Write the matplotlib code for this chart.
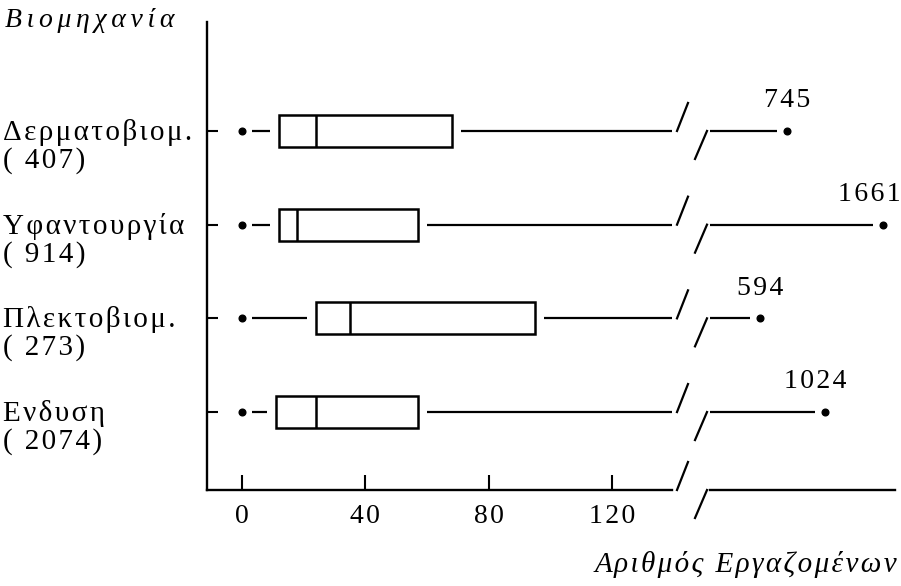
import numpy as np
import matplotlib
matplotlib.use("Agg")
import matplotlib.pyplot as plt
from matplotlib.patches import Rectangle
from matplotlib.transforms import blended_transform_factory

# ---------------- data ----------------
categories = ["Δερματοβιομ.", "Υφαντουργία", "Πλεκτοβιομ.", "Ενδυση"]
counts = [407, 914, 273, 2074]
mins = [0, 0, 0, 0]
q1 = [12, 12, 24, 11]
medians = [24, 18, 35, 24]
q3 = [68, 57, 95, 57]
maxs = [745, 1661, 594, 1024]
xticks = [0, 40, 80, 120]
title_text = "Βιομηχανία"
xlabel_text = "Αριθμός Εργαζομένων"

# ---------------- style ----------------
plt.rcParams['font.family'] = ['Liberation Serif', 'DejaVu Serif']
SIXTH = '\u2006'
HAIR = '\u200a'


def spaced(s, sp):
    return sp.join(list(s))


W, H = 901, 586
fig = plt.figure(figsize=(W / 100, H / 100), dpi=100)


def px_rect(x0, y0, x1, y1):
    return [x0 / W, 1 - y1 / H, (x1 - x0) / W, (y1 - y0) / H]


axL = fig.add_axes(px_rect(207, 22, 672, 490))
axR = fig.add_axes(px_rect(710, 22, 895, 490))

ypos = np.arange(len(categories))[::-1] + 1
axL.set_xlim(-11.3, 139.4)
axL.set_ylim(0.168, 5.163)
axR.set_xscale('log')
axR.set_xlim(391, 1832)
axR.set_ylim(axL.get_ylim())

LW = 1.6
BOX_H = 0.34
col = 'black'


def shift(ax, x, y, dx_px):
    d = ax.transData.transform((x, y))
    return ax.transData.inverted().transform((d[0] + dx_px, d[1]))[0]


for i, y in enumerate(ypos):
    # min dot and lower whisker
    axL.plot(mins[i], y, 'o', ms=4.8, color=col, zorder=3)
    axL.plot([shift(axL, mins[i], y, 10), shift(axL, q1[i], y, -9)], [y, y],
             color=col, lw=LW, solid_capstyle='butt')
    # box
    axL.add_patch(Rectangle((q1[i], y - BOX_H / 2), q3[i] - q1[i], BOX_H,
                            fill=False, ec=col, lw=1.8))
    axL.plot([medians[i], medians[i]], [y - BOX_H / 2, y + BOX_H / 2],
             color=col, lw=1.8, solid_capstyle='butt')
    # upper whisker, left part
    axL.plot([shift(axL, q3[i], y, 9), axL.get_xlim()[1]], [y, y],
             color=col, lw=LW, solid_capstyle='butt', clip_on=False)
    # upper whisker, right part
    axR.plot([axR.get_xlim()[0], shift(axR, maxs[i], y, -10)], [y, y],
             color=col, lw=LW, solid_capstyle='butt', clip_on=False)
    axR.plot(maxs[i], y, 'o', ms=4.8, color=col, zorder=3, clip_on=False)

# value labels for maxima
label_dx = [0, -10, 0, -7]
for i, y in enumerate(ypos):
    axR.annotate(spaced(str(maxs[i]), HAIR), xy=(maxs[i], y),
                 xytext=(label_dx[i], 17), textcoords='offset points',
                 ha='center', va='baseline', fontsize=20, annotation_clip=False)

# break marks
trL = blended_transform_factory(axL.transAxes, axL.transData)
trR = blended_transform_factory(axR.transAxes, axR.transData)
wL = (672 - 207)
wR = (895 - 710)
dy = 28 / 468 * (axL.get_ylim()[1] - axL.get_ylim()[0])
for y in ypos:
    axL.plot([1 + 5 / wL, 1 + 16 / wL], [y, y + dy], transform=trL,
             color=col, lw=LW, clip_on=False)
    axR.plot([-15 / wR, -3 / wR], [y - dy, y], transform=trR,
             color=col, lw=LW, clip_on=False)
# on the axis line
axL.plot([1 + 5 / wL, 1 + 16 / wL], [0, 28 / 468], transform=axL.transAxes,
         color=col, lw=LW, clip_on=False)
axR.plot([-15 / wR, -3 / wR], [-28 / 468, 0], transform=axR.transAxes,
         color=col, lw=LW, clip_on=False)

# spines and ticks
for s in ['top', 'right']:
    axL.spines[s].set_visible(False)
for s in ['top', 'right', 'left']:
    axR.spines[s].set_visible(False)
for ax in (axL, axR):
    for s in ax.spines.values():
        s.set_linewidth(1.7)
axR.set_xticks([])
axR.set_xticks([], minor=True)
axR.set_yticks([])
axR.patch.set_visible(False)

axL.set_yticks(ypos)
axL.set_yticklabels([])
axL.tick_params(axis='y', direction='in', length=8, width=1.5)
axL.set_xticks(xticks)
axL.set_xticklabels([spaced(str(t), HAIR) for t in xticks], fontsize=20)
axL.tick_params(axis='x', direction='in', length=11, width=1.5, pad=10)

# category labels
for i, y in enumerate(ypos):
    axL.annotate(spaced(categories[i], HAIR), xy=(3 / W, y),
                 xycoords=('figure fraction', 'data'),
                 xytext=(0, -6.5), textcoords='offset points',
                 ha='left', va='baseline', fontsize=21, annotation_clip=False)
    axL.annotate(spaced('( ' + str(counts[i]) + ')', HAIR), xy=(3 / W, y),
                 xycoords=('figure fraction', 'data'),
                 xytext=(0, -26.5), textcoords='offset points',
                 ha='left', va='baseline', fontsize=21, annotation_clip=False)

fig.text(5 / W, 1 - 27 / H, spaced(title_text, SIXTH), ha='left', va='baseline',
         fontsize=20, style='italic')
fig.text(897 / W, 1 - 572 / H, spaced(xlabel_text, HAIR), ha='right',
         va='baseline', fontsize=21, style='italic')

fig.savefig('out.png', dpi=100)
